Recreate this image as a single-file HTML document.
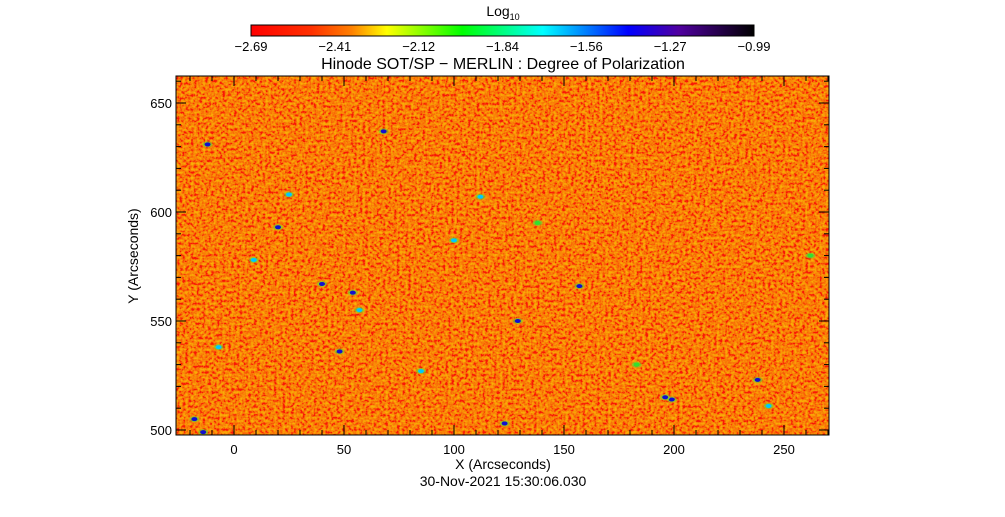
<!DOCTYPE html>
<html><head><meta charset="utf-8"><style>
body{margin:0;background:#fff;width:1005px;height:512px;overflow:hidden}
svg text{font-family:"Liberation Sans",sans-serif;fill:#000}
</style></head><body>
<svg width="1005" height="512">
<defs>
<linearGradient id="cb" x1="0" x2="1" y1="0" y2="0">
<stop offset="0" stop-color="#ff0000"/><stop offset="0.12" stop-color="#ff3000"/>
<stop offset="0.2" stop-color="#ff8000"/><stop offset="0.27" stop-color="#ffff00"/>
<stop offset="0.42" stop-color="#00ff00"/><stop offset="0.58" stop-color="#00ffff"/>
<stop offset="0.75" stop-color="#0000ff"/><stop offset="0.85" stop-color="#5000a0"/>
<stop offset="1" stop-color="#000000"/></linearGradient>
<filter id="tex" x="0" y="0" width="1" height="1">
<feTurbulence type="fractalNoise" baseFrequency="0.35" numOctaves="2" seed="3" result="n"/>
<feColorMatrix in="n" type="matrix" values="0 0 0 0 1  0 2.2 0 0 -0.7  0 0 0 0 0.0  0 0 0 0 1"/>
</filter>
<clipPath id="pc"><rect x="176" y="76" width="653" height="359"/></clipPath>
</defs>
<text x="503" y="16" font-size="14" text-anchor="middle">Log<tspan font-size="9" dy="4">10</tspan></text>
<rect x="251" y="25" width="503" height="11" fill="url(#cb)" stroke="#000" stroke-width="1"/>
<g id="cbt" font-size="13" text-anchor="middle"></g>
<text x="503" y="69" font-size="16" text-anchor="middle">Hinode SOT/SP − MERLIN : Degree of Polarization</text>
<g clip-path="url(#pc)">
<rect x="176" y="76" width="653" height="359" fill="#f03c10"/>
<rect x="176" y="76" width="653" height="359" filter="url(#tex)" opacity="0.6"/>
<g id="blobs"></g>
</g>
<rect x="176" y="76" width="653" height="359" fill="none" stroke="#000"/>
<g id="axes" stroke="#000" stroke-width="1"></g>
<g id="xl" font-size="13" text-anchor="middle"></g>
<g id="yl" font-size="13" text-anchor="end"></g>
<text x="503" y="469" font-size="14" text-anchor="middle">X (Arcseconds)</text>
<text x="503" y="486" font-size="14" text-anchor="middle">30-Nov-2021 15:30:06.030</text>
<text transform="translate(138,256) rotate(-90)" font-size="14" text-anchor="middle">Y (Arcseconds)</text>
</svg>
<script>
const cbLabels=["-2.69","-2.41","-2.12","-1.84","-1.56","-1.27","-0.99"];
const xTicks=[0,50,100,150,200,250];
const yTicks=[500,550,600,650];
// blobs: [x arcsec, y arcsec, log value]
const blobX=[40,68,20,129,123,48,183,-14,-12,54,100,199,196,238,243,57,-7,-18,9,262,112,138,157,25,85];
const blobY=[567,637,593,550,503,536,530,499,631,563,587,514,515,523,511,555,538,505,578,580,607,595,566,608,527];
const blobV=[-1.3,-1.35,-1.5,-1.4,-1.5,-1.4,-2.0,-1.4,-1.6,-1.6,-1.9,-1.5,-1.6,-1.4,-1.7,-1.8,-1.8,-1.5,-1.9,-2.0,-1.9,-2.0,-1.6,-1.7,-1.9];
const xs=v=>234+(v)*2.2, ys=v=>430-(v-500)*2.18;
const NS="http://www.w3.org/2000/svg";
function mk(t,a,p){const e=document.createElementNS(NS,t);for(const k in a)e.setAttribute(k,a[k]);p.appendChild(e);return e;}
function col(v){const t=(v+2.69)/1.7;if(t>0.6)return"#1010d0";if(t>0.45)return"#00c8ff";if(t>0.3)return"#30e030";return"#d0ff00";}
const cbt=document.getElementById('cbt');
cbLabels.forEach((l,i)=>{const e=mk('text',{x:251+i*503/6,y:51},cbt);e.textContent=l.replace('-','−');

});
const bl=document.getElementById('blobs');
blobX.forEach((x,i)=>{const c=col(blobV[i]);
const g=mk('ellipse',{cx:xs(x),cy:ys(blobY[i]),rx:5,ry:3,fill:'#60e030',opacity:0.6},bl);


const e=mk('ellipse',{cx:xs(x),cy:ys(blobY[i]),rx:3,ry:2,fill:c},bl);

});
const ax=document.getElementById('axes'),xl=document.getElementById('xl'),yl=document.getElementById('yl');
for(let v=-20;v<=270;v+=10){const x=xs(v);const L=v%50===0?10:5;
mk('line',{x1:x,x2:x,y1:435,y2:435-L},ax);mk('line',{x1:x,x2:x,y1:76,y2:76+L},ax);}
for(let v=500;v<=660;v+=10){const y=ys(v);const L=v%50===0?10:5;
mk('line',{x1:176,x2:176+L,y1:y,y2:y},ax);mk('line',{x1:829,x2:829-L,y1:y,y2:y},ax);}
xTicks.forEach(v=>{const e=mk('text',{x:xs(v),y:454},xl);e.textContent=v;

});
yTicks.forEach(v=>{const e=mk('text',{x:172,y:ys(v)+5},yl);e.textContent=v;

});
</script>
</body></html>
